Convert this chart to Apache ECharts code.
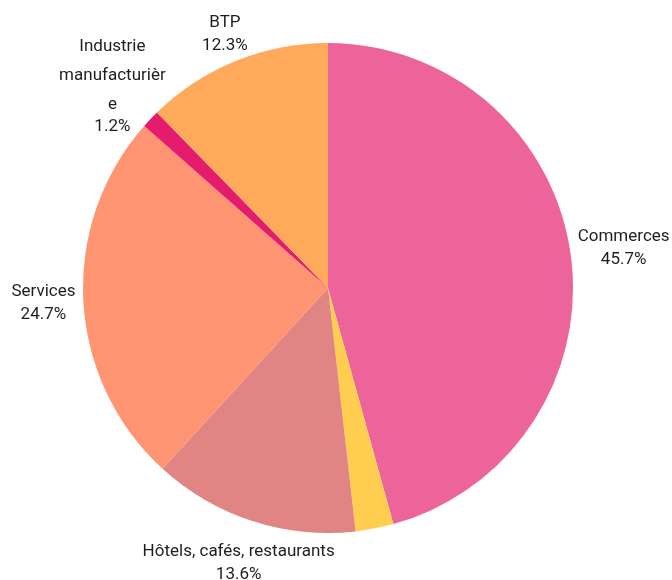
<!DOCTYPE html>
<html><head><meta charset="utf-8">
<script src="https://cdn.jsdelivr.net/npm/echarts@6/dist/echarts.min.js"></script>
<style>html,body{margin:0;padding:0;background:#fff}#c{width:672px;height:580px}</style>
</head><body><div id="c"></div>
<script>
const categories = ['Commerces', 'Autres', 'Hôtels, cafés, restaurants', 'Services', 'Industrie manufacturière', 'BTP'];
const values = [45.7, 2.5, 13.6, 24.7, 1.2, 12.3];
const colors = ['#EC6499', '#FFCD4F', '#E08584', '#FF9473', '#E51B6E', '#FFA95B'];
const hiddenLabels = ['Autres'];
const wrappedLabels = ['Industrie manufacturière'];

const FONT = 'Roboto';
const FS = 17;
const GAP = 7;
const WRAP_W = 110;

const cv = document.createElement('canvas').getContext('2d');
cv.font = FS + 'px ' + FONT;
function wrap(text, maxW) {
  const words = text.split(' ');
  const lines = [];
  let cur = '';
  words.forEach(w => {
    const test = cur ? cur + ' ' + w : w;
    if (cv.measureText(test).width <= maxW) { cur = test; return; }
    if (cur) { lines.push(cur); cur = ''; }
    let piece = '';
    for (const ch of w) {
      if (cv.measureText(piece + ch).width > maxW && piece) { lines.push(piece); piece = ch; }
      else piece += ch;
    }
    cur = piece;
  });
  if (cur) lines.push(cur);
  return lines;
}

const data = categories.map((name, i) => {
  const item = { name: name, value: values[i], itemStyle: { color: colors[i] } };
  if (hiddenLabels.indexOf(name) >= 0) item.label = { show: false };
  return item;
});

const chart = echarts.init(document.getElementById('c'), null, { renderer: 'canvas' });
chart.setOption({
  animation: false,
  backgroundColor: '#fff',
  series: [{
    type: 'pie',
    center: [328, 288],
    radius: 245,
    startAngle: 90,
    clockwise: true,
    avoidLabelOverlap: false,
    percentPrecision: 1,
    itemStyle: { borderWidth: 0 },
    data: data,
    label: {
      show: true,
      position: 'outside',
      fontFamily: FONT,
      fontSize: FS,
      color: '#1e1e1e',
      formatter: p => {
        const pct = p.percent.toFixed(1) + '%';
        if (wrappedLabels.indexOf(p.name) >= 0) {
          return wrap(p.name, WRAP_W).map(l => '{w|' + l + '}').join('\n') + '\n{pw|' + pct + '}';
        }
        return '{n|' + p.name + '}\n{p|' + pct + '}';
      },
      rich: {
        n: { fontFamily: FONT, fontSize: FS, color: '#1e1e1e', lineHeight: 23, align: 'center' },
        p: { fontFamily: FONT, fontSize: FS, color: '#1e1e1e', lineHeight: 23, align: 'center' },
        w: { fontFamily: FONT, fontSize: FS, color: '#1e1e1e', lineHeight: 29, align: 'center' },
        pw: { fontFamily: FONT, fontSize: FS, color: '#1e1e1e', lineHeight: 15, align: 'center' }
      }
    },
    labelLine: { show: true, length: 10, length2: 0, lineStyle: { opacity: 0 } },
    emphasis: { disabled: true },
    labelLayout: function (p) {
      const pts = p.labelLinePoints;
      if (!pts) return {};
      let dx = pts[1][0] - pts[0][0], dy = pts[1][1] - pts[0][1];
      const len = Math.hypot(dx, dy) || 1; dx /= len; dy /= len;
      const name = categories[p.dataIndex];
      let w = p.labelRect.width;
      if (wrappedLabels.indexOf(name) >= 0) w = Math.min(w, 66);
      const h = p.labelRect.height;
      const tx = Math.abs(dx) > 1e-6 ? w / 2 / Math.abs(dx) : Infinity;
      const ty = Math.abs(dy) > 1e-6 ? h / 2 / Math.abs(dy) : Infinity;
      const d = Math.min(tx, ty) + GAP + 17 * Math.max(0, dy);
      return { x: pts[0][0] + dx * d, y: pts[0][1] + dy * d, align: 'center', verticalAlign: 'middle' };
    }
  }]
});
</script></body></html>
